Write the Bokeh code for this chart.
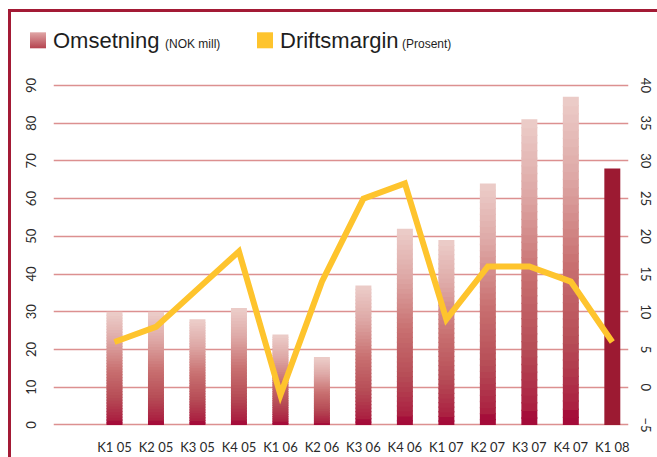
from bokeh.plotting import figure
from bokeh.models import Range1d, LinearAxis, FixedTicker, ColumnDataSource, Div
from bokeh.layouts import column
from bokeh.embed import file_html
from bokeh.resources import INLINE

# ---------------- data ----------------
quarters = ["K1 05", "K2 05", "K3 05", "K4 05", "K1 06", "K2 06", "K3 06",
            "K4 06", "K1 07", "K2 07", "K3 07", "K4 07", "K1 08"]
omsetning = [30, 30, 28, 31, 24, 18, 37, 52, 49, 64, 81, 87, 68]
driftsmargin = [6, 8, 13, 18, -1, 14, 25, 27, 9, 16, 16, 14, 6]
left_ticks = [0, 10, 20, 30, 40, 50, 60, 70, 80, 90]
right_ticks = [-5, 0, 5, 10, 15, 20, 25, 30, 35, 40]
legend_names = ["Omsetning", "Driftsmargin"]
legend_units = ["(NOK mill)", "(Prosent)"]

FONT = "Lato"
BORDER = "#a31a35"
YELLOW = "#fec42d"
SOLID_BAR = "#9c1a32"
GRID = "#dc9090"

stops = [(0.0, (163, 10, 57)), (0.04, (165, 14, 58)), (0.05, (170, 30, 64)),
         (0.25, (182, 76, 86)), (0.5, (201, 113, 113)), (0.75, (221, 166, 164)),
         (1.0, (236, 205, 201))]


def grad(t):
    for (t0, c0), (t1, c1) in zip(stops[:-1], stops[1:]):
        if t <= t1:
            f = (t - t0) / (t1 - t0)
            c = [int(round(a + (b - a) * f)) for a, b in zip(c0, c1)]
            return "#%02x%02x%02x" % tuple(c)
    return "#%02x%02x%02x" % stops[-1][1]


X0, X1 = -1.47, 12.39
Y0, Y1 = -0.4, 90.5
W, H = 646, 395
LEG_H = 50

# ---------------- main chart ----------------
p = figure(width=W, height=H,
           x_range=Range1d(X0, X1), y_range=Range1d(Y0, Y1),
           output_backend="svg", toolbar_location=None,
           min_border_left=42, min_border_right=29,
           min_border_top=21, min_border_bottom=30)
p.outline_line_color = None
p.background_fill_color = "white"
p.border_fill_color = "white"
p.extra_y_ranges = {"pct": Range1d(-5 + Y0 / 2, -5 + Y1 / 2)}

p.xgrid.visible = False
p.ygrid.ticker = FixedTicker(ticks=left_ticks)
p.ygrid.grid_line_color = GRID
p.ygrid.grid_line_width = 1.3

# bars (vertical gradient via overlapping stacked segments, drawn bottom to top)
N = 40
bw = 0.385
OVER = 0.35
L, R, B, T, C = [], [], [], [], []
for k in range(N):
    for i, v in enumerate(omsetning):
        if i == len(omsetning) - 1:
            if k == 0:
                L.append(i - bw / 2); R.append(i + bw / 2); B.append(0); T.append(v); C.append(SOLID_BAR)
            continue
        L.append(i - bw / 2); R.append(i + bw / 2)
        B.append(max(0, v * k / N - OVER)); T.append(v * (k + 1) / N)
        C.append(grad((k + 0.5) / N))
src = ColumnDataSource(dict(left=L, right=R, bottom=B, top=T, color=C))
p.quad(left="left", right="right", bottom="bottom", top="top", source=src,
       fill_color="color", line_color=None)

# line
p.line(list(range(len(quarters))), driftsmargin, y_range_name="pct",
       line_color=YELLOW, line_width=6, line_join="miter")

# axes
p.xaxis.ticker = FixedTicker(ticks=list(range(len(quarters))))
p.xaxis.major_label_overrides = {i: q for i, q in enumerate(quarters)}
p.yaxis.ticker = FixedTicker(ticks=left_ticks)
p.yaxis.major_label_orientation = "vertical"

ra = LinearAxis(y_range_name="pct", ticker=FixedTicker(ticks=right_ticks))
ra.major_label_orientation = "vertical"
p.add_layout(ra, "right")

for ax in [p.xaxis[0], p.yaxis[0], ra]:
    ax.axis_line_color = None
    ax.major_tick_line_color = None
    ax.minor_tick_line_color = None
    ax.major_label_text_font = FONT
    ax.major_label_text_font_size = "13px"
    ax.major_label_text_color = "#2a2a2a"
p.xaxis.major_label_standoff = 6
p.yaxis.major_label_standoff = 11
ra.major_label_standoff = 6

# ---------------- legend strip (inline svg) ----------------
name_x = [42, 269]
unit_x = [154, 391]
sq_x = [19, 246]
sq_y, sq_s, base = 20.3, 16, 36
svg = [f'<svg xmlns="http://www.w3.org/2000/svg" width="{W}" height="{LEG_H}" style="display:block">',
       '<defs><linearGradient id="lg" x1="0" y1="0" x2="0" y2="1">'
       '<stop offset="0" stop-color="#e0a6a6"/><stop offset="1" stop-color="#b5434f"/>'
       '</linearGradient></defs>',
       f'<rect x="{sq_x[0]}" y="{sq_y}" width="{sq_s}" height="{sq_s}" fill="url(#lg)"/>',
       f'<rect x="{sq_x[1]}" y="{sq_y}" width="{sq_s}" height="{sq_s}" fill="{YELLOW}"/>']
for t, x in zip(legend_names, name_x):
    svg.append(f'<text x="{x}" y="{base}" font-family="{FONT}" font-size="22" fill="#1e1e1e">{t}</text>')
for t, x in zip(legend_units, unit_x):
    svg.append(f'<text x="{x}" y="{base}" font-family="{FONT}" font-size="12" fill="#1e1e1e">{t}</text>')
svg.append('</svg>')
legend = Div(text="".join(svg), width=W, height=LEG_H, styles={"margin": "0", "padding": "0"})

layout = column(legend, p, spacing=0,
                styles={"border-top": "3px solid " + BORDER, "border-left": "3px solid " + BORDER,
                        "margin-left": "8px", "margin-top": "9px"})

open("out.html", "w").write(file_html(layout, INLINE))
